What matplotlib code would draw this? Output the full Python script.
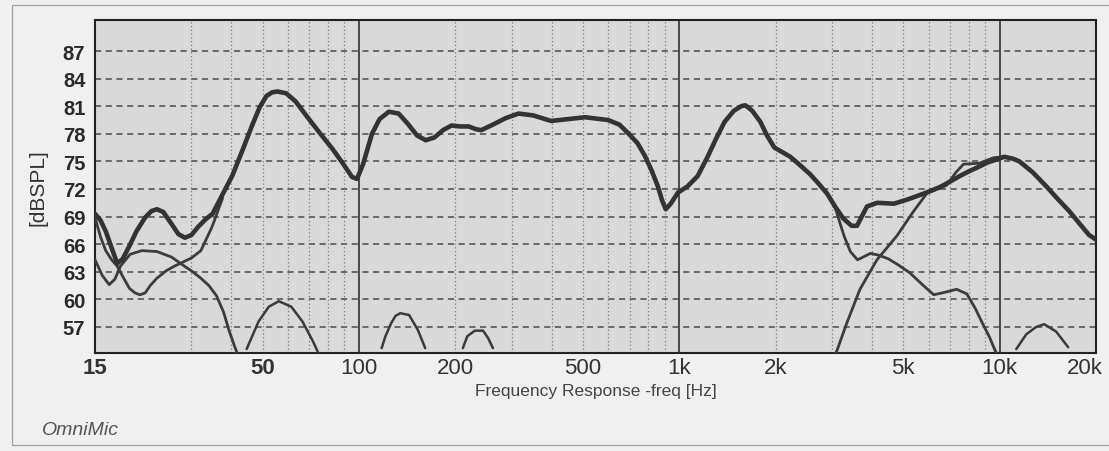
import matplotlib.pyplot as plt
from matplotlib.patches import Rectangle
from matplotlib.ticker import FixedLocator, NullFormatter
from matplotlib.transforms import ScaledTranslation

# summed (thick) response
main_freq = [15, 15.6, 16.2, 16.9, 17.6, 18.3, 19.2, 20.2, 21.5, 22.5, 23.4, 24.5, 26.0, 27.3,
             28.6, 30.0, 31.5, 33.2, 34.9, 37.0, 40.3, 43.5, 46.5, 49.0, 51.4, 53.5, 55.6,
             59.3, 63.5, 68.4, 75.0, 82.5, 89.0, 95.2, 98.6, 103, 109.8, 116, 124, 133, 142,
             152, 161.6, 172, 183, 194.6, 207, 220, 232, 241, 262, 287, 315, 350, 398, 450,
             508, 599, 650, 691, 740, 781, 820, 857, 885, 907, 940, 990, 1062, 1141, 1226,
             1300, 1385, 1480, 1560, 1608, 1690, 1791, 1880, 1981, 2100, 2221, 2380, 2562,
             2720, 2894, 3064, 3250, 3450, 3588, 3750, 3855, 4150, 4676, 5200, 5797, 6502,
             7000, 7500, 8000, 8472, 9200, 9774, 10350, 11000, 11530, 12700, 13980, 15200,
             16490, 17800, 19020, 20000]
main_db = [69.3, 68.6, 67.4, 65.6, 63.9, 64.4, 65.8, 67.4, 68.9, 69.6, 69.8, 69.5, 68.2, 67.1,
           66.7, 67.0, 67.9, 68.7, 69.3, 71.0, 73.5, 76.4, 79.0, 80.9, 82.1, 82.5, 82.6,
           82.4, 81.5, 80.0, 78.2, 76.4, 74.8, 73.3, 73.1, 74.7, 78.0, 79.6, 80.4, 80.2, 79.1,
           77.8, 77.3, 77.6, 78.4, 78.9, 78.8, 78.8, 78.5, 78.4, 79.0, 79.7, 80.2, 80.0, 79.4,
           79.6, 79.8, 79.5, 79.0, 78.1, 77.0, 75.6, 74.0, 72.3, 70.7, 69.8, 70.4, 71.6,
           72.3, 73.4, 75.5, 77.4, 79.3, 80.5, 81.0, 81.1, 80.5, 79.3, 77.8, 76.5, 76.0,
           75.5, 74.6, 73.6, 72.6, 71.5, 70.1, 68.8, 68.0, 68.0, 69.3, 70.1, 70.5, 70.4,
           70.9, 71.5, 72.2, 72.8, 73.4, 73.9, 74.3, 74.9, 75.2, 75.5, 75.3, 75.0, 73.8,
           72.3, 70.9, 69.6, 68.2, 67.0, 66.5]

# low-frequency thin curves
lowa_freq = [15, 15.8, 16.6, 17.3, 18.0, 19.3, 21.0, 23.4, 26.0, 28.0, 30.0, 32.1, 34.0,
             35.9, 37.8, 39.4, 41.0, 41.6]
lowa_db = [64.3, 62.6, 61.6, 62.2, 63.6, 64.9, 65.3, 65.2, 64.6, 63.8, 63.1, 62.3, 61.5,
           60.4, 58.6, 56.5, 54.8, 54.2]
lowb_freq = [15, 15.6, 16.2, 16.9, 17.6, 18.3, 19.2, 20.0, 20.7, 21.5, 22.3, 23.4, 25.0,
             26.5, 28.0, 30.0, 32.1, 34.8, 37.5]
lowb_db = [68.9, 66.8, 65.3, 64.3, 63.6, 62.5, 61.2, 60.7, 60.5, 60.7, 61.5, 62.3, 63.1,
           63.6, 64.0, 64.5, 65.3, 67.9, 71.0]

# woofer roll-off and tweeter
woof_freq = [2720, 2894, 3064, 3269, 3420, 3600, 3750, 3950, 4200, 4500, 4850, 5240, 5700,
             6230, 6800, 7340, 7900, 8400, 8900, 9300, 9640, 10000]
woof_db = [72.6, 71.5, 70.0, 66.9, 65.2, 64.3, 64.6, 65.0, 64.8, 64.4, 63.7, 62.9, 61.7,
           60.5, 60.8, 61.1, 60.6, 59.0, 57.2, 55.9, 54.6, 53.5]
tw_freq = [3050, 3111, 3340, 3665, 4140, 4777, 5394, 5922, 6400, 6836, 7300, 7716, 8650,
           9568, 10350]
tw_db = [53.8, 54.5, 57.5, 61.1, 64.3, 66.9, 69.6, 71.5, 72.0, 72.4, 73.8, 74.7, 74.8,
         75.4, 75.5]

# small humps along the floor
hump1_freq = [44.6, 48.6, 52.3, 56.2, 61.5, 66.6, 71.7, 74.4]
hump1_db = [54.6, 57.6, 59.2, 59.8, 59.2, 57.6, 55.5, 54.3]
hump2_freq = [117.7, 121, 126, 130, 134.6, 143.4, 152.6, 161]
hump2_db = [54.7, 56.0, 57.4, 58.2, 58.5, 58.3, 56.7, 54.7]
hump3_freq = [211, 218, 230, 244, 253, 262]
hump3_db = [54.7, 56.0, 56.6, 56.6, 55.8, 54.7]
hump4_freq = [11275, 12114, 13000, 13780, 15014, 16370]
hump4_db = [54.6, 56.2, 57.0, 57.3, 56.5, 54.8]

ytick_vals = [57, 60, 63, 66, 69, 72, 75, 78, 81, 84, 87]
xtick_vals = [15, 50, 100, 200, 500, 1000, 2000, 5000, 10000, 20000]
xtick_labels = ["15", "50", "100", "200", "500", "1k", "2k", "5k", "10k", "20k"]

plt.rcParams['font.family'] = ['Liberation Sans', 'DejaVu Sans']

fig = plt.figure(figsize=(11.09, 4.52), dpi=100, facecolor='#f0f0f0')
# faint border of the printed page
fig.patches.append(Rectangle((12 / 1109, 6 / 452), 1.2, 440 / 452, transform=fig.transFigure,
                             fill=False, edgecolor='#a0a0a0', lw=0.9))

ax = fig.add_axes([0.0857, 0.2168, 0.9026, 0.7367])
ax.set_facecolor('#d9d9d9')
ax.set_xscale('log')
ax.set_xlim(15, 20000)
ax.set_ylim(54.17, 90.37)

# grid: dashed horizontals, dotted minor verticals, solid decade lines
for v in ytick_vals:
    ax.axhline(v, color='#4a4a4a', lw=1.1, ls=(0, (4, 3)), zorder=1)
minor_f = [m * 10 ** d for d in (1, 2, 3) for m in range(2, 10) if m * 10 ** d > 20]
for f in minor_f:
    ax.axvline(f, color='#7a7a7a', lw=0.9, ls=(0, (1, 2)), zorder=1)
for f in (100, 1000, 10000):
    ax.axvline(f, color='#303030', lw=1.2, zorder=1)

thin = dict(color='#3c3c3c', lw=2.0, solid_joinstyle='round', solid_capstyle='round', zorder=3)
hump = dict(color='#3a3a3a', lw=1.8, solid_joinstyle='round', solid_capstyle='round', zorder=3)
ax.plot(lowa_freq, lowa_db, **thin)
ax.plot(lowb_freq, lowb_db, **thin)
ax.plot(woof_freq, woof_db, **thin)
ax.plot(tw_freq, tw_db, **thin)
for fr, db in [(hump1_freq, hump1_db), (hump2_freq, hump2_db),
               (hump3_freq, hump3_db), (hump4_freq, hump4_db)]:
    ax.plot(fr, db, **hump)
ax.plot(main_freq, main_db, color='#333333', lw=3.3, solid_joinstyle='round',
        solid_capstyle='round', zorder=4)

for s in ax.spines.values():
    s.set_color('#222222')
    s.set_linewidth(1.5)

ax.xaxis.set_major_locator(FixedLocator(xtick_vals))
ax.xaxis.set_minor_locator(FixedLocator([]))
ax.xaxis.set_minor_formatter(NullFormatter())
ax.set_xticks(xtick_vals)
ax.set_xticklabels(xtick_labels)
ax.set_yticks(ytick_vals)
ax.tick_params(axis='both', length=0)
ax.tick_params(axis='x', labelsize=16, pad=3, labelcolor='#333333')
ax.tick_params(axis='y', labelsize=14.5, pad=7, labelcolor='#2a2a2a')
for t in ax.get_yticklabels():
    t.set_fontweight('bold')
for t in ax.get_xticklabels():
    if t.get_text() in ("15", "50"):
        t.set_fontweight('bold')
# last label sits against the page edge, nudge it inwards
last = ax.get_xticklabels()[-1]
last.set_transform(last.get_transform() + ScaledTranslation(-0.11, 0, fig.dpi_scale_trans))

ax.set_xlabel("Frequency Response -freq [Hz]", fontsize=12.5, color='#444444')
ax.xaxis.set_label_coords(0.5, -0.09)
ax.set_ylabel("[dBSPL]", fontsize=15, color='#333333')
ax.yaxis.set_label_coords(-0.047, 0.5)

fig.text(42 / 1109, 1 - 431 / 452, "OmniMic", fontsize=14, style='italic', color='#555555',
         va='center', ha='left')

fig.savefig("out.png", dpi=100, facecolor=fig.get_facecolor())
